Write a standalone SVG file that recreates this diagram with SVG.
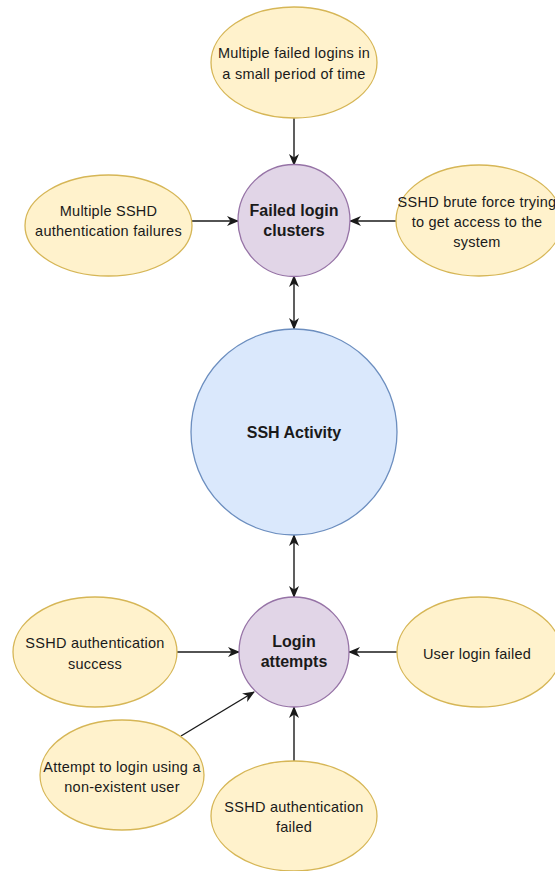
<svg xmlns="http://www.w3.org/2000/svg" width="555" height="871" viewBox="0 0 555 871">
  <defs>
    <style>
      .leaf { fill: #fff2cc; stroke: #d6b656; stroke-width: 1.3; }
      .group { fill: #e1d5e7; stroke: #9673a6; stroke-width: 1.3; }
      .core { fill: #dae8fc; stroke: #6c8ebf; stroke-width: 1.3; }
      .lbl { font-family: "Liberation Sans", Arial, sans-serif; font-size: 14.5px; letter-spacing: 0.25px; fill: #1a1a1a; text-anchor: middle; }
      .bold { font-family: "Liberation Sans", Arial, sans-serif; font-size: 16px; font-weight: bold; fill: #1a1a1a; text-anchor: middle; }
      .edge { stroke: #1a1a1a; stroke-width: 1.4; fill: none; }
    </style>
    <marker id="arrow" viewBox="0 0 12 10" refX="11" refY="5" markerWidth="12" markerHeight="10" markerUnits="userSpaceOnUse" orient="auto-start-reverse">
      <path d="M0,0 L12,5 L0,10 L3.5,5 z" fill="#1a1a1a"/>
    </marker>
  </defs>
  <rect width="555" height="871" fill="#ffffff"/>

  <g id="connectors">
    <line class="edge" x1="294" y1="118" x2="294" y2="165" marker-end="url(#arrow)"/>
    <line class="edge" x1="192" y1="221" x2="238" y2="221" marker-end="url(#arrow)"/>
    <line class="edge" x1="396" y1="221" x2="350" y2="221" marker-end="url(#arrow)"/>
    <line class="edge" x1="294" y1="276" x2="294" y2="329" marker-start="url(#arrow)" marker-end="url(#arrow)"/>
    <line class="edge" x1="294" y1="535" x2="294" y2="597" marker-start="url(#arrow)" marker-end="url(#arrow)"/>
    <line class="edge" x1="177" y1="652" x2="239" y2="652" marker-end="url(#arrow)"/>
    <line class="edge" x1="397" y1="652" x2="349" y2="652" marker-end="url(#arrow)"/>
    <line class="edge" x1="181" y1="736" x2="254" y2="692" marker-end="url(#arrow)"/>
    <line class="edge" x1="294" y1="761" x2="294" y2="707" marker-end="url(#arrow)"/>
  </g>

  <g id="failed-logins-short-period">
    <ellipse class="leaf" cx="294" cy="62.5" rx="83" ry="55.5"/>
    <text class="lbl" x="294" y="58">Multiple failed logins in</text>
    <text class="lbl" x="294" y="79">a small period of time</text>
  </g>

  <g id="multiple-sshd-failures">
    <ellipse class="leaf" cx="108.5" cy="225.5" rx="83.5" ry="50.5"/>
    <text class="lbl" x="108.5" y="216">Multiple SSHD</text>
    <text class="lbl" x="108.5" y="236">authentication failures</text>
  </g>

  <g id="sshd-brute-force">
    <ellipse class="leaf" cx="479" cy="220.5" rx="83" ry="55.5"/>
    <text class="lbl" x="477" y="207">SSHD brute force trying</text>
    <text class="lbl" x="477" y="227">to get access to the</text>
    <text class="lbl" x="477" y="247">system</text>
  </g>

  <g id="failed-login-clusters">
    <circle class="group" cx="294" cy="220.5" r="56"/>
    <text class="bold" x="294" y="216">Failed login</text>
    <text class="bold" x="294" y="236">clusters</text>
  </g>

  <g id="ssh-activity">
    <circle class="core" cx="294" cy="432" r="103"/>
    <text class="bold" x="294" y="438">SSH Activity</text>
  </g>

  <g id="login-attempts">
    <circle class="group" cx="294" cy="652" r="55"/>
    <text class="bold" x="294" y="647">Login</text>
    <text class="bold" x="294" y="667">attempts</text>
  </g>

  <g id="sshd-auth-success">
    <ellipse class="leaf" cx="95" cy="652" rx="82" ry="55"/>
    <text class="lbl" x="95" y="648">SSHD authentication</text>
    <text class="lbl" x="95" y="669">success</text>
  </g>

  <g id="user-login-failed">
    <ellipse class="leaf" cx="479" cy="652" rx="82" ry="55"/>
    <text class="lbl" x="477" y="659">User login failed</text>
  </g>

  <g id="nonexistent-user-login">
    <ellipse class="leaf" cx="122" cy="775" rx="82" ry="55"/>
    <text class="lbl" x="122" y="772">Attempt to login using a</text>
    <text class="lbl" x="122" y="792">non-existent user</text>
  </g>

  <g id="sshd-auth-failed">
    <ellipse class="leaf" cx="294" cy="816" rx="83" ry="55"/>
    <text class="lbl" x="294" y="812">SSHD authentication</text>
    <text class="lbl" x="294" y="832">failed</text>
  </g>
</svg>
